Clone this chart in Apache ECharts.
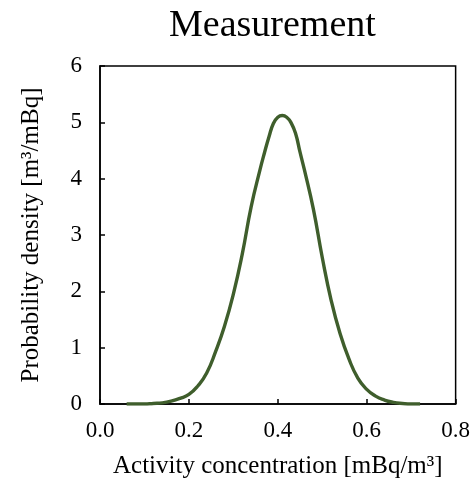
<!DOCTYPE html>
<html>
<head>
<meta charset="utf-8">
<script src="https://cdn.jsdelivr.net/npm/echarts@6/dist/echarts.min.js"></script>
<style>
  html, body { margin: 0; padding: 0; background: #ffffff; }
  #chart { width: 473px; height: 486px; }
</style>
</head>
<body>
<div id="chart"></div>
<script>
// Activity concentration (mBq/m3) sample positions
const concentration = [0.06, 0.08, 0.10, 0.12, 0.14, 0.16, 0.18, 0.20, 0.22, 0.24, 0.26, 0.28, 0.30,
  0.32, 0.34, 0.36, 0.37, 0.38, 0.39, 0.40, 0.41, 0.42, 0.43, 0.44, 0.45, 0.46, 0.48, 0.50, 0.52,
  0.54, 0.56, 0.58, 0.60, 0.62, 0.64, 0.66, 0.68, 0.70, 0.72];
// Probability density (m3/mBq) at each position
const density = [0.00, 0.00, 0.00, 0.01, 0.02, 0.05, 0.10, 0.17, 0.32, 0.55, 0.93, 1.38, 1.95,
  2.66, 3.50, 4.16, 4.46, 4.74, 4.98, 5.09, 5.12, 5.09, 4.99, 4.80, 4.47, 4.15, 3.46, 2.60, 1.84,
  1.25, 0.80, 0.46, 0.26, 0.14, 0.07, 0.03, 0.01, 0.00, 0.00];
const xTicks = ['0.0', '0.2', '0.4', '0.6', '0.8'];
const yTicks = ['0', '1', '2', '3', '4', '5', '6'];

const serif = '"Liberation Serif", "Times New Roman", serif';
const points = concentration.map((x, i) => [x, density[i]]);

const chart = echarts.init(document.getElementById('chart'), null, { renderer: 'canvas' });
chart.setOption({
  animation: false,
  backgroundColor: '#ffffff',
  title: {
    text: 'Measurement',
    left: 164,
    top: 2,
    textStyle: { fontFamily: serif, fontSize: 38, fontWeight: 'normal', color: '#000' }
  },
  grid: { left: 100, top: 66, right: 16, bottom: 82, show: true, borderColor: '#000', borderWidth: 1.5, backgroundColor: 'transparent' },
  xAxis: {
    type: 'value',
    min: 0, max: 0.8, interval: 0.2,
    name: 'Activity concentration [mBq/m³]',
    nameLocation: 'middle',
    nameGap: 50,
    nameTextStyle: { fontFamily: serif, fontSize: 25, color: '#000' },
    axisLine: { show: true, lineStyle: { color: '#000', width: 1.5 } },
    axisTick: { show: true, inside: true, length: 5, lineStyle: { color: '#000', width: 1.5 } },
    axisLabel: {
      margin: 15,
      fontFamily: serif, fontSize: 23, color: '#000',
      formatter: v => xTicks[Math.round(v / 0.2)]
    },
    splitLine: { show: false }
  },
  yAxis: {
    type: 'value',
    min: 0, max: 6, interval: 1,
    name: 'Probability density [m³/mBq]',
    nameLocation: 'middle',
    nameGap: 56,
    nameTextStyle: { fontFamily: serif, fontSize: 25, color: '#000' },
    axisLine: { show: true, lineStyle: { color: '#000', width: 1.5 } },
    axisTick: { show: true, inside: true, length: 5, lineStyle: { color: '#000', width: 1.5 } },
    axisLabel: {
      margin: 18,
      fontFamily: serif, fontSize: 23, color: '#000',
      formatter: v => yTicks[Math.round(v)]
    },
    splitLine: { show: false }
  },
  series: [{
    type: 'line',
    data: points,
    smooth: 0.5,
    symbol: 'none',
    lineStyle: { color: '#3f5e2c', width: 3.4 }
  }]
});
</script>
</body>
</html>
